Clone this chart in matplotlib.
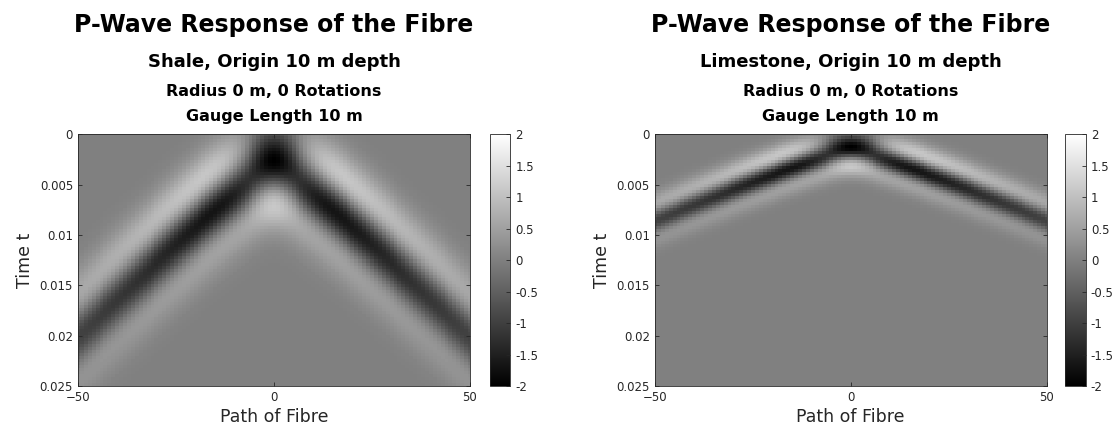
import numpy as np
import matplotlib.pyplot as plt

# panel settings
rocks = ['Shale', 'Limestone']
p_velocity = [2600.0, 6200.0]      # m/s
origin_depth = 10.0                # m
gauge_length = 10.0                # m
radius = 0
rotations = 0
pulse_width = 8.5                  # m, width of the source pulse
pulse_skew = 0.2                   # share of a plain gaussian in the pulse
spreading = 0.8                    # geometric spreading exponent
source_delay = 0.0003              # s

# fibre positions and time samples
x = np.arange(-50, 51, 1.0)
t = np.arange(0, 0.0251, 0.0003)


def fibre_response(v):
    X, T = np.meshgrid(x, t)

    def along_fibre(xp):
        r = np.sqrt(xp ** 2 + origin_depth ** 2)
        u = (v * (T - source_delay) - r) / pulse_width
        w = (u - pulse_skew) * np.exp(-u ** 2)
        return w * (xp / r) / r ** spreading

    g = (along_fibre(X + gauge_length / 2) - along_fibre(X - gauge_length / 2)) / gauge_length
    return 2 * g / np.abs(g.min())


fig = plt.figure(figsize=(11.12, 4.34), dpi=100)
ax_pos = [[0.0701, 0.1106, 0.3525, 0.5795], [0.5888, 0.1106, 0.3525, 0.5795]]
cb_pos = [[0.4406, 0.1106, 0.0184, 0.5795], [0.9577, 0.1106, 0.0189, 0.5795]]
tick_col = '#262626'

for i, rock in enumerate(rocks):
    data = fibre_response(p_velocity[i])
    ax = fig.add_axes(ax_pos[i])
    dt = t[1] - t[0]
    im = ax.imshow(data, cmap='gray', vmin=-2, vmax=2, aspect='auto', interpolation='nearest',
                   extent=[x[0] - 0.5, x[-1] + 0.5, t[-1] + dt / 2, t[0] - dt / 2])
    ax.set_xlim(-50, 50)
    ax.set_ylim(0.025, 0)
    ax.set_xticks([-50, 0, 50])
    ax.set_yticks([0, 0.005, 0.01, 0.015, 0.02, 0.025])
    ax.set_yticklabels(['0', '0.005', '0.01', '0.015', '0.02', '0.025'])
    ax.tick_params(direction='in', top=True, right=True, length=3, width=0.6,
                   labelsize=8.5, colors=tick_col, labelcolor=tick_col)
    for s in ax.spines.values():
        s.set_color(tick_col)
        s.set_linewidth(0.6)
    ax.set_xlabel('Path of Fibre', fontsize=12.5, color=tick_col, labelpad=3)
    ax.set_ylabel('Time t', fontsize=12.5, color=tick_col, labelpad=4)

    cax = fig.add_axes(cb_pos[i])
    cb = fig.colorbar(im, cax=cax)
    cb.set_ticks(np.arange(-2, 2.01, 0.5))
    cb.set_ticklabels(['-2', '-1.5', '-1', '-0.5', '0', '0.5', '1', '1.5', '2'])
    cb.ax.tick_params(direction='in', length=3, width=0.6, labelsize=8.5,
                      colors=tick_col, labelcolor=tick_col)
    cb.outline.set_linewidth(0.6)
    cb.outline.set_edgecolor(tick_col)

    cx = ax_pos[i][0] + ax_pos[i][2] / 2
    fig.text(cx, 1 - 25 / 434, 'P-Wave Response of the Fibre', ha='center', va='center',
             fontsize=17, fontweight='bold')
    fig.text(cx, 1 - 62 / 434, f'{rock}, Origin {origin_depth:.0f} m depth', ha='center',
             va='center', fontsize=13, fontweight='bold')
    fig.text(cx, 1 - 91 / 434, f'Radius {radius} m, {rotations} Rotations', ha='center',
             va='center', fontsize=11.5, fontweight='bold')
    fig.text(cx, 1 - 116 / 434, f'Gauge Length {gauge_length:.0f} m', ha='center',
             va='center', fontsize=11.5, fontweight='bold')

fig.savefig('out.png', dpi=100)
